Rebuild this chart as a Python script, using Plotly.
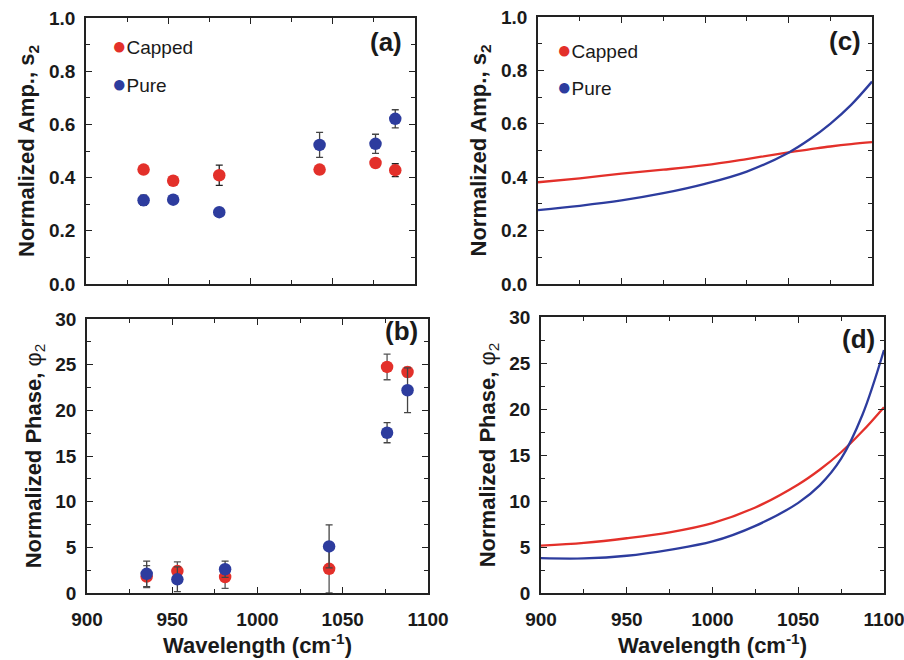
import plotly.graph_objects as go

# ---------------- data ----------------
wl_meas = [935, 953, 981, 1042, 1076, 1088]

amp_capped = [0.430, 0.388, 0.409, 0.430, 0.455, 0.428]
amp_capped_err = [0.012, 0.012, 0.038, 0.015, 0.012, 0.024]
amp_pure = [0.315, 0.317, 0.270, 0.523, 0.527, 0.621]
amp_pure_err = [0.019, 0.015, 0.008, 0.047, 0.036, 0.034]

phase_capped = [1.8, 2.4, 1.75, 2.65, 24.75, 24.2]
phase_capped_err = [1.2, 1.0, 1.25, 2.65, 1.4, 0.5]
phase_pure = [2.1, 1.5, 2.6, 5.1, 17.55, 22.2]
phase_pure_err = [1.4, 1.35, 0.9, 2.35, 1.1, 2.45]

wl_fit = [900, 925, 950, 975, 1000, 1025, 1050, 1062.5, 1075, 1087.5, 1100]
amp_fit_capped = [0.381, 0.396, 0.413, 0.428, 0.445, 0.468, 0.493, 0.504, 0.515, 0.524, 0.531]
amp_fit_pure = [0.277, 0.293, 0.313, 0.340, 0.375, 0.421, 0.492, 0.541, 0.600, 0.671, 0.758]
phase_fit_capped = [5.15, 5.45, 5.95, 6.6, 7.6, 9.3, 11.8, 13.4, 15.3, 17.6, 20.2]
phase_fit_pure = [3.78, 3.76, 4.05, 4.7, 5.6, 7.3, 9.8, 11.7, 14.6, 19.4, 26.4]

amp_ticks = [0.0, 0.2, 0.4, 0.6, 0.8, 1.0]
amp_ticklabels = ["0.0", "0.2", "0.4", "0.6", "0.8", "1.0"]
phase_ticks = [0, 5, 10, 15, 20, 25, 30]
wl_ticks = [900, 950, 1000, 1050, 1100]

RED = "#E3302A"
BLUE = "#2D3C9E"
FONT = "Liberation Sans, Arial, sans-serif"

W, H = 904, 660

fig = go.Figure()

# (a) measured amplitude
fig.add_trace(go.Scatter(x=wl_meas, y=amp_pure, mode="markers", xaxis="x", yaxis="y",
                         marker=dict(color=BLUE, size=12.5),
                         error_y=dict(type="data", array=amp_pure_err, color="#444444", thickness=1.3, width=3.5),
                         showlegend=False))
fig.add_trace(go.Scatter(x=wl_meas, y=amp_capped, mode="markers", xaxis="x", yaxis="y",
                         marker=dict(color=RED, size=12.5),
                         error_y=dict(type="data", array=amp_capped_err, color="#222222", thickness=1.3, width=3.5),
                         showlegend=False))
# (b) measured phase
fig.add_trace(go.Scatter(x=wl_meas, y=phase_capped, mode="markers", xaxis="x2", yaxis="y2",
                         marker=dict(color=RED, size=12.5),
                         error_y=dict(type="data", array=phase_capped_err, color="#555555", thickness=1.3, width=3.5),
                         showlegend=False))
fig.add_trace(go.Scatter(x=wl_meas, y=phase_pure, mode="markers", xaxis="x2", yaxis="y2",
                         marker=dict(color=BLUE, size=12.5),
                         error_y=dict(type="data", array=phase_pure_err, color="#444444", thickness=1.3, width=3.5),
                         showlegend=False))
# (c) fitted amplitude
fig.add_trace(go.Scatter(x=wl_fit, y=amp_fit_capped, mode="lines", xaxis="x3", yaxis="y3",
                         line=dict(color=RED, width=2.3, shape="spline"), showlegend=False))
fig.add_trace(go.Scatter(x=wl_fit, y=amp_fit_pure, mode="lines", xaxis="x3", yaxis="y3",
                         line=dict(color=BLUE, width=2.3, shape="spline"), showlegend=False))
# (d) fitted phase
fig.add_trace(go.Scatter(x=wl_fit, y=phase_fit_capped, mode="lines", xaxis="x4", yaxis="y4",
                         line=dict(color=RED, width=2.3, shape="spline"), showlegend=False))
fig.add_trace(go.Scatter(x=wl_fit, y=phase_fit_pure, mode="lines", xaxis="x4", yaxis="y4",
                         line=dict(color=BLUE, width=2.3, shape="spline"), showlegend=False))


def px_x(a, b):
    return [a / W, b / W]


def px_y(top, bottom):
    return [1 - bottom / H, 1 - top / H]


tickfont = dict(family=FONT, size=19, color="#1a1a1a", weight="bold")
titlefont = dict(family=FONT, size=22, color="#1a1a1a", weight="bold")


def xaxis(dom, anchor, labels):
    d = dict(domain=dom, anchor=anchor, range=[900, 1100], tickvals=wl_ticks, automargin=False,
             showticklabels=labels, ticks="inside", ticklen=6, tickwidth=1.3, tickcolor="#222",
             minor=dict(dtick=25, ticks="inside", ticklen=4, tickwidth=1.2, tickcolor="#222"),
             showline=True, linecolor="#222", linewidth=1.5, mirror="allticks",
             showgrid=False, zeroline=False, tickfont=tickfont, ticklabelstandoff=8,
             ticklabeloverflow="allow")
    if labels:
        d["title"] = dict(text="Wavelength (cm<sup>-1</sup>)", font=titlefont, standoff=8)
    return d


def yaxis(dom, anchor, rng, ticks, ticktext, minor, title, standoff):
    return dict(domain=dom, anchor=anchor, range=rng, tickvals=ticks, ticktext=ticktext, automargin=False,
                ticks="inside", ticklen=6, tickwidth=1.3, tickcolor="#222",
                minor=dict(dtick=minor, ticks="inside", ticklen=4, tickwidth=1.2, tickcolor="#222"),
                showline=True, linecolor="#222", linewidth=1.5, mirror="allticks",
                showgrid=False, zeroline=False, tickfont=tickfont, ticklabelstandoff=5,
                ticklabeloverflow="allow",
                title=dict(text=title, font=titlefont, standoff=standoff))


amp_title = "Normalized Amp., s<sub>2</sub>"
phase_title = "Normalized Phase, <span style='font-weight:normal'>φ<sub>2</sub></span>"

fig.update_layout(
    width=W, height=H,
    margin=dict(l=0, r=0, t=0, b=0, autoexpand=False),
    paper_bgcolor="white", plot_bgcolor="white",
    font=dict(family=FONT, color="#1a1a1a"),
    xaxis=xaxis(px_x(86, 415), "y", False),
    yaxis=yaxis(px_y(18, 284), "x", [0, 1], amp_ticks, amp_ticklabels, 0.1, amp_title, 8),
    xaxis2=xaxis(px_x(87, 428), "y2", True),
    yaxis2=yaxis(px_y(319, 593), "x2", [0, 30], phase_ticks, [str(t) for t in phase_ticks], 2.5, phase_title, 8),
    xaxis3=xaxis(px_x(538, 872), "y3", False),
    yaxis3=yaxis(px_y(17, 284), "x3", [0, 1], amp_ticks, amp_ticklabels, 0.1, amp_title, 8),
    xaxis4=xaxis(px_x(541, 884), "y4", True),
    yaxis4=yaxis(px_y(317, 593), "x4", [0, 30], phase_ticks, [str(t) for t in phase_ticks], 2.5, phase_title, 8),
)

panel_font = dict(family=FONT, size=26, color="#1a1a1a", weight="bold")
legend_font = dict(family=FONT, size=19, color="#1a1a1a")


def dot(color, label):
    return f"<span style='color:{color};font-size:24px'>●</span>{label}"


annotations = [
    dict(text="(a)", x=0.967, y=0.91, xref="x domain", yref="y domain", xanchor="right", yanchor="middle",
         showarrow=False, font=panel_font),
    dict(text="(b)", x=0.977, y=0.955, xref="x2 domain", yref="y2 domain", xanchor="right", yanchor="middle",
         showarrow=False, font=panel_font),
    dict(text="(c)", x=0.973, y=0.91, xref="x3 domain", yref="y3 domain", xanchor="right", yanchor="middle",
         showarrow=False, font=panel_font),
    dict(text="(d)", x=0.98, y=0.92, xref="x4 domain", yref="y4 domain", xanchor="right", yanchor="middle",
         showarrow=False, font=panel_font),
    dict(text=dot(RED, "Capped"), x=0.072, y=0.898, xref="x domain", yref="y domain", xanchor="left",
         yanchor="middle", showarrow=False, font=legend_font),
    dict(text=dot(BLUE, "Pure"), x=0.072, y=0.752, xref="x domain", yref="y domain", xanchor="left",
         yanchor="middle", showarrow=False, font=legend_font),
    dict(text=dot(RED, "Capped"), x=0.05, y=0.88, xref="x3 domain", yref="y3 domain", xanchor="left",
         yanchor="middle", showarrow=False, font=legend_font),
    dict(text=dot(BLUE, "Pure"), x=0.05, y=0.738, xref="x3 domain", yref="y3 domain", xanchor="left",
         yanchor="middle", showarrow=False, font=legend_font),
]
fig.update_layout(annotations=annotations)

fig.write_html("out.html", config={"displayModeBar": False},
               post_script="document.body.style.margin='0';document.body.style.overflow='hidden';")
